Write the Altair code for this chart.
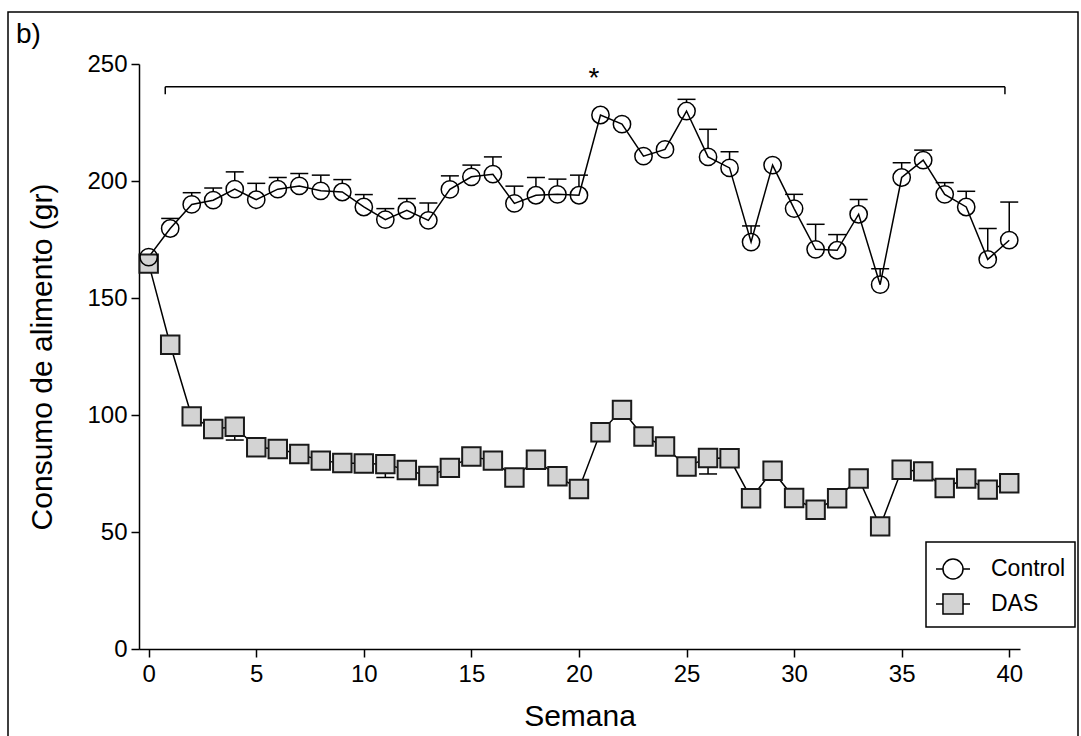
import altair as alt
import pandas as pd

# ---------------- data ----------------
weeks = list(range(41))
control_mean = [167.5, 179.7, 190.0, 191.8, 196.5, 192.0, 196.5, 197.9, 195.8, 195.3,
                188.9, 183.5, 187.5, 183.2, 196.4, 201.8, 202.9, 190.4, 193.9, 194.3,
                193.9, 228.2, 224.3, 210.6, 213.5, 229.9, 210.3, 205.6, 173.9, 206.8,
                188.2, 170.8, 170.4, 185.8, 155.7, 201.5, 208.9, 194.3, 188.9, 166.5,
                174.7]
control_sem = [0.0, 4.3, 5.0, 5.2, 7.4, 7.0, 5.0, 5.3, 6.7, 5.3,
               5.3, 4.7, 5.0, 7.4, 5.8, 5.0, 7.4, 7.4, 7.6, 6.5,
               8.6, 0.0, 0.0, 0.0, 0.0, 5.0, 11.8, 6.9, 6.9, 0.0,
               6.1, 10.7, 6.7, 6.3, 6.8, 6.3, 4.3, 5.0, 6.7, 13.2,
               16.3]
das_mean = [164.7, 130.0, 99.4, 94.0, 95.0, 86.2, 85.5, 83.3, 80.5, 79.5,
            79.3, 79.0, 76.5, 73.9, 77.4, 82.3, 80.5, 73.3, 80.9, 73.8,
            68.4, 92.6, 102.2, 90.8, 86.5, 78.0, 81.6, 81.5, 64.4, 76.2,
            64.5, 59.5, 64.4, 72.9, 52.4, 76.6, 75.9, 68.8, 72.9, 68.1,
            70.8]
das_sem = [0.0, 0.0, 0.0, 0.0, 5.7, 0.0, 0.0, 0.0, 0.0, 0.0,
           0.0, 5.7, 0.0, 0.0, 0.0, 0.0, 0.0, 0.0, 0.0, 0.0,
           0.0, 0.0, 0.0, 0.0, 0.0, 0.0, 6.8, 0.0, 0.0, 0.0,
           0.0, 0.0, 0.0, 0.0, 0.0, 0.0, 0.0, 0.0, 0.0, 0.0,
           0.0]

series_names = ["Control", "DAS"]
x_ticks = [0, 5, 10, 15, 20, 25, 30, 35, 40]
y_ticks = [0, 50, 100, 150, 200, 250]
x_title = "Semana"
y_title = "Consumo de alimento (gr)"
panel_label = "b)"

bracket_start = 0.77
bracket_end = 39.8
bracket_y = 240.3
bracket_drop = 237.1
star_x = 20.7
star_text = "*"

FONT = "Liberation Sans"

# ---------------- tables ----------------
df_c = pd.DataFrame({"week": weeks, "mean": control_mean, "sem": control_sem})
df_c["upper"] = df_c["mean"] + df_c["sem"]
df_c["series"] = series_names[0]
df_d = pd.DataFrame({"week": weeks, "mean": das_mean, "sem": das_sem})
df_d["lower"] = df_d["mean"] - df_d["sem"]
df_d["series"] = series_names[1]
df_all = pd.concat([df_c[["week", "mean", "series"]], df_d[["week", "mean", "series"]]])

df_bracket = pd.DataFrame({"x": [bracket_start], "x2": [bracket_end], "y": [bracket_y]})
df_drops = pd.DataFrame({"x": [bracket_start, bracket_end],
                         "y": [bracket_y, bracket_y], "y2": [bracket_drop, bracket_drop]})
df_star = pd.DataFrame({"x": [star_x], "y": [bracket_y], "t": [star_text]})

x_scale = alt.Scale(domain=[-0.45, 40.5], nice=False, zero=False)
y_scale = alt.Scale(domain=[0, 250], nice=False, zero=False)
x_axis = alt.Axis(values=x_ticks, title=x_title, format="d")
y_axis = alt.Axis(values=y_ticks, title=y_title, format="d")


def X(field="week"):
    return alt.X(f"{field}:Q", scale=x_scale, axis=x_axis)


def Y(field):
    return alt.Y(f"{field}:Q", scale=y_scale, axis=y_axis)


# ---------------- layers ----------------
frame = alt.Chart(alt.Data(values=[{"a": 1}])).mark_rect(
    fill=None, fillOpacity=0, stroke="black", strokeWidth=1.5
).encode(x=alt.value(-131), x2=alt.value(939), y=alt.value(-52), y2=alt.value(720))

c_err = df_c[df_c["sem"] > 0]
c_whisk = alt.Chart(c_err).mark_rule(color="black", strokeWidth=1.5).encode(
    x=X(), y=Y("mean"), y2="upper:Q")
c_caps = alt.Chart(c_err).mark_tick(orient="horizontal", size=18, thickness=1.5,
                                     color="black", opacity=1).encode(x=X(), y=Y("upper"))
c_fill = alt.Chart(df_c).mark_point(shape="circle", size=300, filled=True,
                                     color="white", opacity=1).encode(x=X(), y=Y("mean"))
c_line = alt.Chart(df_c).mark_line(color="black", strokeWidth=1.5).encode(x=X(), y=Y("mean"))
c_ring = alt.Chart(df_c).mark_point(shape="circle", size=300, filled=False,
                                     stroke="black", strokeWidth=1.5, opacity=1).encode(
    x=X(), y=Y("mean"))

d_err = df_d[df_d["sem"] > 0]
d_line = alt.Chart(df_d).mark_line(color="black", strokeWidth=1.5).encode(x=X(), y=Y("mean"))
d_whisk = alt.Chart(d_err).mark_rule(color="black", strokeWidth=1.5).encode(
    x=X(), y=Y("mean"), y2="lower:Q")
d_caps = alt.Chart(d_err).mark_tick(orient="horizontal", size=18, thickness=1.5,
                                     color="black", opacity=1).encode(x=X(), y=Y("lower"))
d_sq = alt.Chart(df_d).mark_square(size=340, fill="#d3d3d3", stroke="#1a1a1a",
                                   strokeWidth=2, opacity=1).encode(x=X(), y=Y("mean"))

br_h = alt.Chart(df_bracket).mark_rule(color="black", strokeWidth=1.5).encode(
    x=X("x"), x2="x2:Q", y=Y("y"))
br_v = alt.Chart(df_drops).mark_rule(color="black", strokeWidth=1.5).encode(
    x=X("x"), y=Y("y"), y2="y2:Q")
star = alt.Chart(df_star).mark_text(font=FONT, fontSize=28, color="black",
                                    baseline="alphabetic", align="center").encode(
    x=X("x"), y=Y("y"), text="t:N")

circle_path = ("M-1,0L-0.59,0M0.59,0L1,0"
               "M-0.59,0A0.59,0.59,0,1,1,0.59,0A0.59,0.59,0,1,1,-0.59,0Z")
square_path = ("M-1,0L-0.59,0M0.59,0L1,0"
               "M-0.59,-0.59L0.59,-0.59L0.59,0.59L-0.59,0.59Z")

legend_props = dict(title=None, orient="none", legendX=787, legendY=478,
                    symbolSize=1156, symbolStrokeColor="black", symbolStrokeWidth=1.5,
                    labelFont=FONT, labelFontSize=23, labelColor="black", labelOffset=20,
                    padding=9, rowPadding=3, strokeColor="black", fillColor="white")
legend_layer = alt.Chart(df_all).transform_filter("datum.week < -100").mark_point(
    filled=True, strokeWidth=1.5, opacity=1
).encode(
    x=X(), y=Y("mean"),
    shape=alt.Shape("series:N", scale=alt.Scale(domain=series_names,
                                                range=[circle_path, square_path]),
                    legend=alt.Legend(**legend_props)),
    fill=alt.Fill("series:N", scale=alt.Scale(domain=series_names,
                                              range=["white", "#d3d3d3"]),
                  legend=alt.Legend(**legend_props)),
    stroke=alt.Stroke("series:N", scale=alt.Scale(domain=series_names,
                                                  range=["black", "black"]),
                      legend=alt.Legend(**legend_props)),
)

label = alt.Chart(alt.Data(values=[{"t": panel_label}])).mark_text(
    font=FONT, fontSize=28, color="black", align="left", baseline="alphabetic"
).encode(x=alt.value(-123), y=alt.value(-21), text="t:N")

chart = alt.layer(
    frame, c_whisk, c_caps, c_fill, c_line, d_line, d_whisk, d_caps, d_sq, c_ring,
    br_h, br_v, star, legend_layer, label
).properties(
    width=881, height=585,
    padding={"left": 139, "top": 64, "right": 61, "bottom": 87},
    autosize=alt.AutoSizeParams(type="none"),
).configure_view(stroke=None).configure_axis(
    grid=False, domainColor="black", domainWidth=1.5, tickColor="black", tickWidth=1.5,
    tickSize=8, labelFont=FONT, labelFontSize=24, labelColor="black",
    titleFont=FONT, titleFontSize=30, titleFontWeight="normal", titleColor="black",
).configure_axisX(labelPadding=5, titlePadding=15).configure_axisY(
    labelPadding=4, titlePadding=29
).configure_legend(strokeWidth=1.5, symbolStrokeColor="black", symbolStrokeWidth=1.5)

chart.save("out.html", embed_options={"renderer": "svg", "actions": False})
